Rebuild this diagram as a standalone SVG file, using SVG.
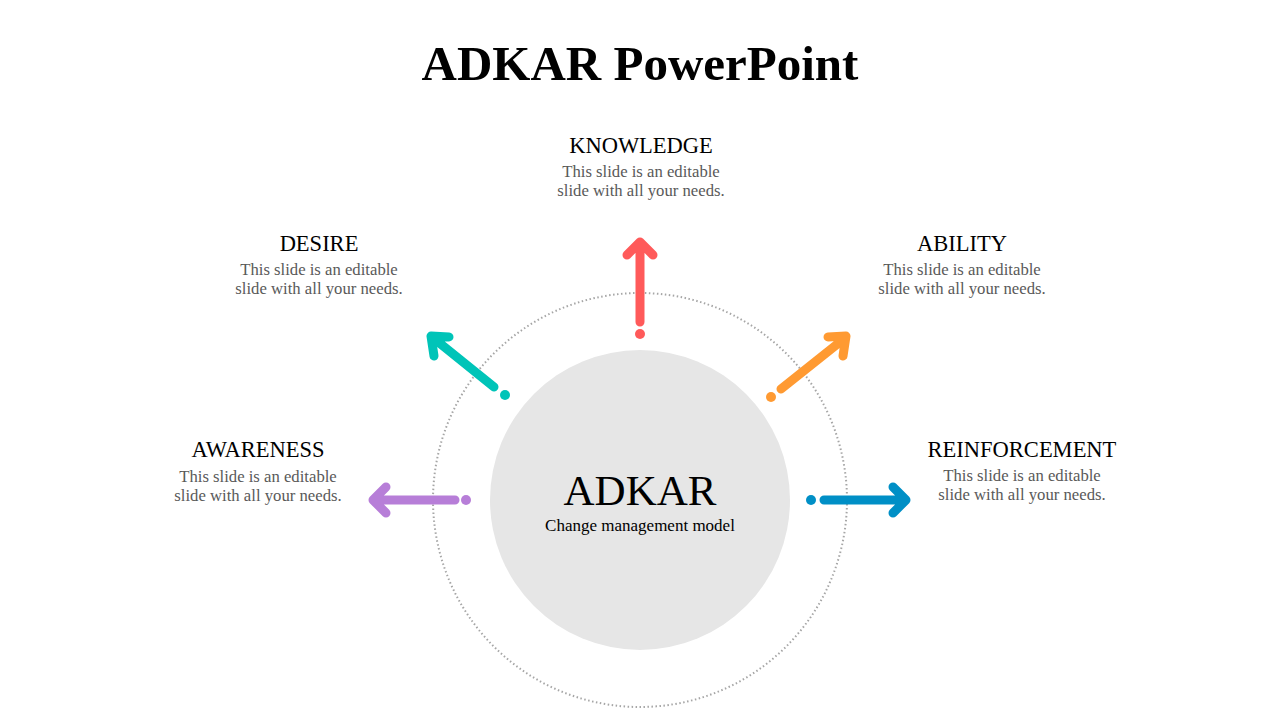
<svg xmlns="http://www.w3.org/2000/svg" width="1280" height="720" viewBox="0 0 1280 720">
<style>
.t{font-family:"Liberation Serif","DejaVu Serif",serif;fill:#000}
.h{font-size:22.5px;text-anchor:middle}
.d{font-size:16.7px;fill:#595959;text-anchor:middle}
.a{fill:none;stroke-width:9;stroke-linecap:round;stroke-linejoin:round}
</style>
<rect width="1280" height="720" fill="#fff"/>
<text class="t" x="640" y="80" font-size="49" font-weight="bold" text-anchor="middle">ADKAR PowerPoint</text>
<circle cx="640" cy="500" r="207" fill="none" stroke="#a6a6a6" stroke-width="2" stroke-dasharray="1.5 2.5"/>
<g id="center">
<circle cx="640" cy="500" r="150" fill="#e6e6e6"/>
<text class="t" x="640" y="505" font-size="43" text-anchor="middle">ADKAR</text>
<text class="t" x="640" y="531" font-size="17" fill="#404040" text-anchor="middle">Change management model</text>
</g>
<g id="connectors">
<g stroke="#ff5a5a" fill="#ff5a5a"><path class="a" d="M640 322V243M627 255L640 242L653 255"/><circle cx="640" cy="334" r="5" stroke="none"/></g>
<g stroke="#00c4b8" fill="#00c4b8"><path class="a" d="M494 387L432 337M449 337L431 336L434 356"/><circle cx="505" cy="395" r="5" stroke="none"/></g>
<g stroke="#ff9a32" fill="#ff9a32"><path class="a" d="M781 389L845 338M828 337L846 336L843 356"/><circle cx="771" cy="397" r="5" stroke="none"/></g>
<g stroke="#b77ed8" fill="#b77ed8"><path class="a" d="M455 500H374M386 487L373 500L386 513"/><circle cx="466" cy="500" r="5" stroke="none"/></g>
<g stroke="#008fc6" fill="#008fc6"><path class="a" d="M824 500H905M893 487L906 500L893 513"/><circle cx="811" cy="500" r="5" stroke="none"/></g>
</g>
<g id="knowledge"><text class="t h" x="641" y="153">KNOWLEDGE</text><text class="t d" x="641" y="177">This slide is an editable</text><text class="t d" x="641" y="196">slide with all your needs.</text></g>
<g id="desire"><text class="t h" x="319" y="251">DESIRE</text><text class="t d" x="319" y="275">This slide is an editable</text><text class="t d" x="319" y="294">slide with all your needs.</text></g>
<g id="ability"><text class="t h" x="962" y="251">ABILITY</text><text class="t d" x="962" y="275">This slide is an editable</text><text class="t d" x="962" y="294">slide with all your needs.</text></g>
<g id="awareness"><text class="t h" x="258" y="457">AWARENESS</text><text class="t d" x="258" y="482">This slide is an editable</text><text class="t d" x="258" y="501">slide with all your needs.</text></g>
<g id="reinforcement"><text class="t h" x="1022" y="457">REINFORCEMENT</text><text class="t d" x="1022" y="481">This slide is an editable</text><text class="t d" x="1022" y="500">slide with all your needs.</text></g>
</svg>
